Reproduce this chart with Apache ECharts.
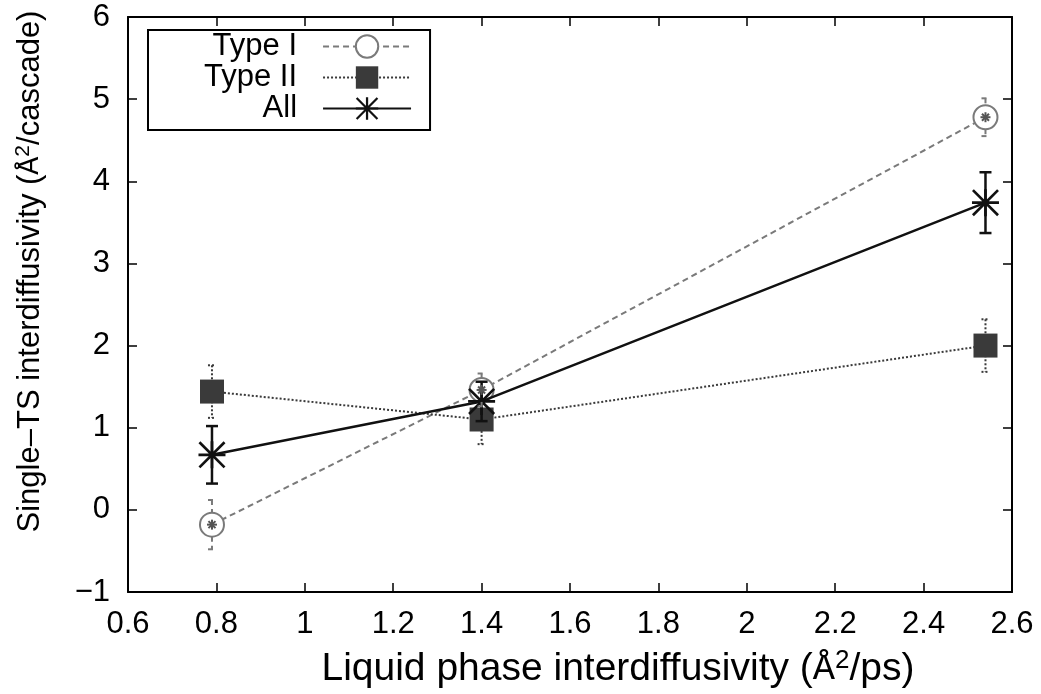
<!DOCTYPE html>
<html>
<head>
<meta charset="utf-8">
<script src="https://cdn.jsdelivr.net/npm/echarts@6/dist/echarts.min.js"></script>
<style>html,body{margin:0;padding:0;background:#fff;}#c{width:1041px;height:694px;}</style>
</head>
<body>
<div id="c"></div>
<script>
// ---- data ----
var xVals = [0.79, 1.40, 2.54];
var typeI = [-0.18, 1.46, 4.78];
var typeIErr = [0.30, 0.20, 0.23];
var typeII = [1.44, 1.10, 2.00];
var typeIIErr = [0.32, 0.30, 0.32];
var allVals = [0.67, 1.32, 3.74];
var allErr = [0.35, 0.24, 0.37];
var seriesNames = ['Type I', 'Type II', 'All'];
var xTicks = {min: 0.6, max: 2.6, step: 0.2};
var yTicks = {min: -1, max: 6, step: 1};

var FONT = 'Liberation Sans';
var colI = '#7a7a7a', colII = '#3a3a3a', colAll = '#111111';
var asteriskPath = 'path://M45 0L55 0L55 100L45 100Z M0 45L100 45L100 55L0 55Z M0 7L7 0L100 93L93 100Z M93 0L100 7L7 100L0 93Z';

function pairs(ys){ return xVals.map(function(x,i){ return [x, ys[i]]; }); }
function errData(ys, es){ return xVals.map(function(x,i){ return [x, ys[i], es[i]]; }); }

function errRender(color, dash, width, cap, hole, inner){
  return function(params, api){
    var x = api.value(0), y = api.value(1), e = api.value(2);
    var top = api.coord([x, y + e]), bot = api.coord([x, y - e]), c = api.coord([x, y]);
    var st = {stroke: color, lineWidth: width, lineDash: dash};
    var ch = [];
    if (hole > 0) {
      if (c[1] - hole > top[1]) ch.push({type:'line', shape:{x1:top[0], y1:top[1], x2:c[0], y2:c[1]-hole}, style: st});
      if (c[1] + hole < bot[1]) ch.push({type:'line', shape:{x1:c[0], y1:c[1]+hole, x2:bot[0], y2:bot[1]}, style: st});
    } else {
      ch.push({type:'line', shape:{x1:top[0], y1:top[1], x2:bot[0], y2:bot[1]}, style: st});
    }
    ch.push({type:'line', shape:{x1:top[0]-cap, y1:top[1], x2:top[0]+cap, y2:top[1]}, style: st});
    ch.push({type:'line', shape:{x1:bot[0]-cap, y1:bot[1], x2:bot[0]+cap, y2:bot[1]}, style: st});
    if (inner) {
      var r = 5, s = {stroke: '#555', lineWidth: 2};
      ch.push({type:'line', shape:{x1:c[0]-r, y1:c[1], x2:c[0]+r, y2:c[1]}, style:s});
      ch.push({type:'line', shape:{x1:c[0], y1:c[1]-r, x2:c[0], y2:c[1]+r}, style:s});
      ch.push({type:'line', shape:{x1:c[0]-r*0.7, y1:c[1]-r*0.7, x2:c[0]+r*0.7, y2:c[1]+r*0.7}, style:s});
      ch.push({type:'line', shape:{x1:c[0]-r*0.7, y1:c[1]+r*0.7, x2:c[0]+r*0.7, y2:c[1]-r*0.7}, style:s});
    }
    return {type:'group', children: ch};
  };
}

var axisCommon = {
  type: 'value',
  axisLine: {show: true, onZero: false, lineStyle: {color: '#000', width: 2}},
  axisTick: {show: true, inside: true, length: 9, lineStyle: {color: '#000', width: 1.5}},
  splitLine: {show: false}
};
function minusFmt(v){ return String(v).replace('-', '\u2212'); }

var chart = echarts.init(document.getElementById('c'));
chart.setOption({
  animation: false,
  backgroundColor: '#fff',
  textStyle: {fontFamily: FONT},
  grid: {left: 128, right: 29, top: 17, bottom: 100, containLabel: false},
  legend: {
    left: 148, top: 30,
    orient: 'vertical',
    align: 'right',
    data: seriesNames,
    itemWidth: 88, itemHeight: 28, itemGap: 0,
    padding: [1, 18, 6, 56],
    borderColor: '#000', borderWidth: 2,
    selectedMode: false,
    formatter: function(n){ return '{a|' + n + '}{g|}'; },
    textStyle: {
      color: '#000', fontFamily: FONT, fontSize: 31,
      rich: {a: {align: 'right', fontSize: 31, fontFamily: FONT, color: '#000'}, g: {width: 21}}
    }
  },
  xAxis: [
    Object.assign({}, axisCommon, {
      position: 'bottom', min: xTicks.min, max: xTicks.max, interval: xTicks.step,
      axisLabel: {color: '#000', fontSize: 31, fontFamily: FONT, margin: 17},
      name: '{p|}{t|Liquid phase interdiffusivity (}{a|Å}{s|2}{t|/ps)}',
      nameLocation: 'middle', nameGap: 56,
      nameTextStyle: {rich: {
        p: {width: 96},
        t: {fontSize: 39, fontFamily: FONT, color: '#000'},
        a: {fontSize: 37, fontFamily: 'Liberation Mono', color: '#000'},
        s: {fontSize: 26, fontFamily: FONT, color: '#000', padding: [0,0,17,0]}
      }}
    }),
    Object.assign({}, axisCommon, {
      position: 'top', min: xTicks.min, max: xTicks.max, interval: xTicks.step,
      axisLabel: {show: false}
    })
  ],
  yAxis: [
    Object.assign({}, axisCommon, {
      position: 'left', min: yTicks.min, max: yTicks.max, interval: yTicks.step,
      axisLabel: {color: '#000', fontSize: 31, fontFamily: FONT, margin: 18, formatter: minusFmt},
      name: '{p|}{t|Single–TS interdiffusivity (}{a|Å}{s|2}{t|/cascade)}',
      nameLocation: 'middle', nameGap: 80, nameRotate: 90,
      nameTextStyle: {rich: {
        p: {width: 66},
        t: {fontSize: 31, fontFamily: FONT, color: '#000'},
        a: {fontSize: 30, fontFamily: 'Liberation Mono', color: '#000'},
        s: {fontSize: 21, fontFamily: FONT, color: '#000', padding: [0,0,14,0]}
      }}
    }),
    Object.assign({}, axisCommon, {
      position: 'right', min: yTicks.min, max: yTicks.max, interval: yTicks.step,
      axisLabel: {show: false}
    })
  ],
  series: [
    {
      name: seriesNames[0], type: 'line', data: pairs(typeI),
      symbol: 'emptyCircle', symbolSize: 24,
      lineStyle: {color: colI, width: 2, type: [6, 4]},
      itemStyle: {color: colI, borderColor: colI, borderWidth: 2},
      z: 3
    },
    {
      type: 'custom', data: errData(typeI, typeIErr), z: 6,
      renderItem: errRender(colI, [5, 4], 2, 4, 12, true)
    },
    {
      name: seriesNames[1], type: 'line', data: pairs(typeII),
      symbol: 'rect', symbolSize: 24,
      lineStyle: {color: colII, width: 2, type: [2, 2]},
      itemStyle: {color: colII},
      z: 4
    },
    {
      type: 'custom', data: errData(typeII, typeIIErr), z: 3,
      renderItem: errRender(colII, [2, 2], 2, 4, 0, false)
    },
    {
      name: seriesNames[2], type: 'line', data: pairs(allVals),
      symbol: asteriskPath, symbolSize: 27,
      lineStyle: {color: colAll, width: 2.5},
      itemStyle: {color: colAll},
      z: 5
    },
    {
      type: 'custom', data: errData(allVals, allErr), z: 5,
      renderItem: errRender(colAll, null, 2.5, 6, 0, false)
    }
  ]
});
</script>
</body>
</html>
